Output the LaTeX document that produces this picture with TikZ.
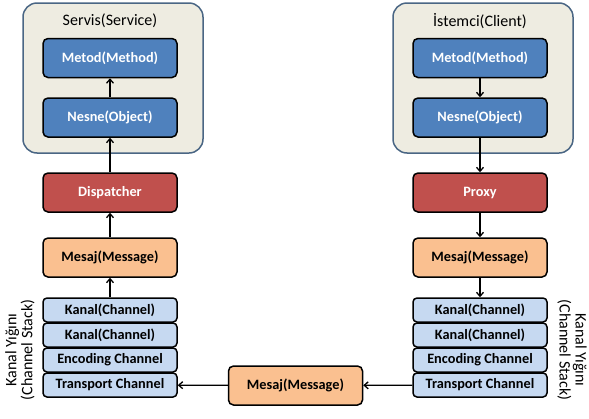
\documentclass[tikz,border=0pt]{standalone}
\usepackage{fontspec}
\setmainfont{Carlito}
\usetikzlibrary{arrows.meta}
\definecolor{outerfill}{HTML}{EEECE1}
\definecolor{outerdraw}{HTML}{4A6684}
\definecolor{bluebox}{HTML}{4F81BD}
\definecolor{redbox}{HTML}{C0504D}
\definecolor{peachbox}{HTML}{FAC090}
\definecolor{chanbox}{HTML}{C6D9F1}
\tikzset{
  x=1pt, y=-1pt,
  outerbox/.style={draw=outerdraw, line width=1.5pt, fill=outerfill, rounded corners=14pt, minimum width=180pt, minimum height=150pt, inner sep=0pt},
  base/.style={draw=black, line width=1.5pt, rounded corners=5pt, minimum width=134pt, inner sep=0pt, font=\fontsize{14.3}{16}\selectfont\bfseries},
  bluen/.style={base, fill=bluebox, text=white, minimum height=39pt},
  redn/.style={base, fill=redbox, text=white, minimum height=39pt},
  peachn/.style={base, fill=peachbox, text=black, minimum height=39pt},
  chann/.style={base, fill=chanbox, text=black, minimum height=24pt, rounded corners=4pt},
  conn/.style={line width=1.3pt, -{Straight Barb[length=4pt,width=7pt,line width=1.3pt]}},
  titlen/.style={font=\fontsize{16}{18}\selectfont},
  sidelab/.style={font=\fontsize{16}{16}\selectfont, align=center, inner sep=0pt}
}
\begin{document}
\begin{tikzpicture}
\useasboundingbox (0,0) rectangle (589,418);
% left
\node[outerbox] (lout) at (113,78) {};
\node[titlen] (ltitle) at (110,21) {Servis(Service)};
\node[bluen] (lmet) at (110,58) {Metod(Method)};
\node[bluen] (lnes) at (110,117.5) {Nesne(Object)};
\node[redn] (ldis) at (110,192.5) {Dispatcher};
\node[peachn] (lmes) at (110,257.5) {Mesaj(Message)};
\node[chann] (lk1) at (110,310) {Kanal(Channel)};
\node[chann] (lk2) at (110,335) {Kanal(Channel)};
\node[chann] (lenc) at (110,360) {Encoding Channel};
\node[chann] (ltr) at (110,385) {Transport Channel};
\node[sidelab, rotate=90] (llab) at (20,350) {Kanal Yığını\\(Channel Stack)};
% right
\node[outerbox] (rout) at (483,78) {};
\node[titlen] (rtitle) at (480,21) {İstemci(Client)};
\node[bluen] (rmet) at (480,58) {Metod(Method)};
\node[bluen] (rnes) at (480,117.5) {Nesne(Object)};
\node[redn] (rprox) at (480,192.5) {Proxy};
\node[peachn] (rmes) at (480,257.5) {Mesaj(Message)};
\node[chann] (rk1) at (480,310) {Kanal(Channel)};
\node[chann] (rk2) at (480,335) {Kanal(Channel)};
\node[chann] (renc) at (480,360) {Encoding Channel};
\node[chann] (rtr) at (480,385) {Transport Channel};
\node[sidelab, rotate=-90] (rlab) at (572,350) {Kanal Yığını\\(Channel Stack)};
% bottom
\node[peachn] (bmes) at (295.5,385.5) {Mesaj(Message)};
% connectors
\draw[conn] (lnes) -- (lmet);
\draw[conn] (ldis) -- (lnes);
\draw[conn] (lmes) -- (ldis);
\draw[conn] (lk1) -- (lmes);
\draw[conn] (rmet) -- (rnes);
\draw[conn] (rnes) -- (rprox);
\draw[conn] (rprox) -- (rmes);
\draw[conn] (rmes) -- (rk1);
\draw[conn] (rtr) -- (bmes);
\draw[conn] (bmes) -- (ltr);
\end{tikzpicture}
\end{document}
